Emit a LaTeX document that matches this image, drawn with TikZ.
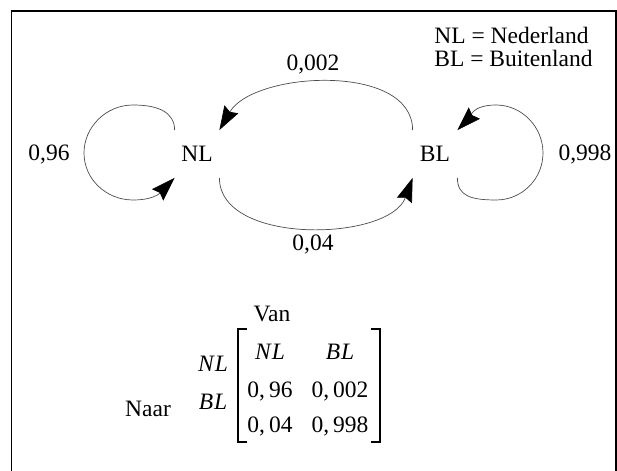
\documentclass[tikz,border=0pt]{standalone}
\usepackage{fontspec}
\setmainfont{Liberation Serif}
\usetikzlibrary{arrows.meta}
\tikzset{
  state/.style={minimum width=22pt,minimum height=23.5pt,inner sep=0pt},
  lbl/.style={anchor=base,inner sep=0pt},
  arr/.style={draw=black!70,line width=0.35pt,-{Stealth[length=12pt,width=8pt,inset=1.5pt,color=black]}},
  bracket/.style={line width=1pt}
}
\begin{document}
\begin{tikzpicture}[x=0.5pt,y=0.5pt,font=\fontsize{11.75}{14}\selectfont]
    \useasboundingbox (0,0) rectangle (617,471);
    \draw[line width=0.75pt] (11.5,0) -- (11.5,460) -- (616,460) -- (616,0);
    % states
    \node[state] (NL) at (197,317) {NL};
    \node[state] (BL) at (435,317) {BL};
    \node[lbl] (pNN) at (49,310) {0,96};
    \node[lbl] (pBB) at (585,310) {0,998};
    \node[lbl] (pBN) at (313,400) {0,002};
    \node[lbl] (pNB) at (313,220) {0,04};
    \node[lbl,anchor=base west] (legNL) at (434,427) {NL = Nederland};
    \node[lbl,anchor=base west] (legBL) at (434,404) {BL = Buitenland};
    % transitions
    \draw[arr] (NL.north west) .. controls +(0,18) and +(25,0) .. (133,366) .. controls +(-27,0) and +(0,26) .. (84,318)
       .. controls +(0,-26) and +(-27,0) .. (133,271) .. controls +(25,0) and +(-12,-12) .. (NL.south west);
    \draw[arr] (BL.south east) .. controls +(0,-18) and +(-25,0) .. (496,271) .. controls +(26,0) and +(0,-26) .. (543,318)
       .. controls +(0,26) and +(26,0) .. (496,366) .. controls +(-25,0) and +(12,12) .. (BL.north east);
    \draw[arr] (BL.north west) to[out=90,in=60,looseness=0.9] (NL.north east);
    \draw[arr] (NL.south east) to[out=270,in=250,looseness=0.9] (BL.south west);
    % matrix
    \node[lbl] (van) at (272,149) {Van};
    \node[lbl] (naar) at (148,54) {Naar};
    \node[lbl] (rNL) at (213,99) {\textit{N\kern0.5pt L}};
    \node[lbl] (rBL) at (213,61) {\textit{B\kern0.5pt L}};
    \node[lbl] (cNL) at (270,111) {\textit{N\kern0.5pt L}};
    \node[lbl] (cBL) at (340,111) {\textit{B\kern0.5pt L}};
    \node[lbl] (m11) at (270,73) {0,\,96};
    \node[lbl] (m12) at (340,73) {0,\,002};
    \node[lbl] (m21) at (270,38) {0,\,04};
    \node[lbl] (m22) at (340,38) {0,\,998};
    \draw[bracket] (247,142) -- (238,142) -- (238,29) -- (247,29);
    \draw[bracket] (371,142) -- (380,142) -- (380,29) -- (371,29);
\end{tikzpicture}
\end{document}
